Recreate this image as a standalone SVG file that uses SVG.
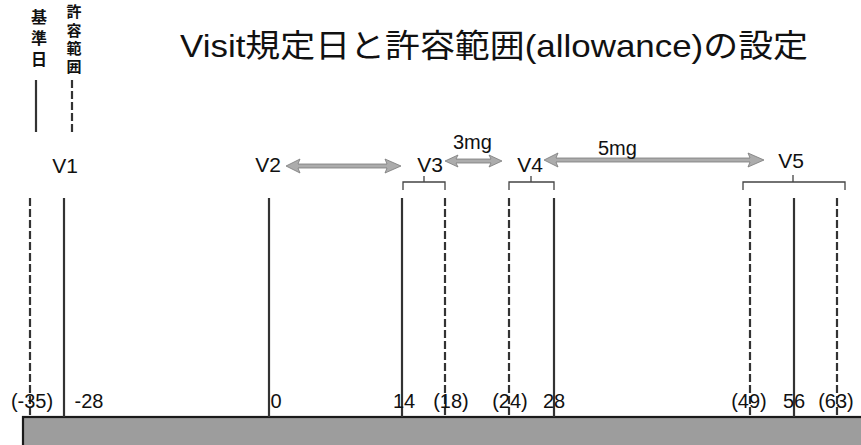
<svg xmlns="http://www.w3.org/2000/svg" width="861" height="445" viewBox="0 0 861 445">
<style>
text{font-family:"Liberation Sans","Noto Sans CJK JP",sans-serif;fill:#111}
.lbl{font-size:20px;text-anchor:middle}
.v{font-size:21px;text-anchor:middle}
.solid{stroke:#333;stroke-width:2.2;fill:none}
.dash{stroke:#333;stroke-width:2.2;fill:none;stroke-dasharray:8 3}
.br{stroke:#444;stroke-width:1.3;fill:none}
.arr{fill:#acacac;stroke:#7a7a7a;stroke-width:0.8}
</style>
<rect width="861" height="445" fill="#fff"/>
<g id="title"><text x="180" y="57" font-size="32" textLength="628" lengthAdjust="spacingAndGlyphs">Visit規定日と許容範囲(allowance)の設定</text></g>
<g id="legend">
<text font-size="16" font-weight="bold" text-anchor="middle"><tspan x="39" y="23">基</tspan><tspan x="39" y="44">準</tspan><tspan x="39" y="65">日</tspan></text>
<line class="solid" x1="36" y1="80" x2="36" y2="132" stroke-width="3"/>
<text font-size="15" font-weight="bold" text-anchor="middle"><tspan x="74" y="17">許</tspan><tspan x="74" y="36">容</tspan><tspan x="74" y="54">範</tspan><tspan x="74" y="72">囲</tspan></text>
<line class="dash" x1="72" y1="80" x2="72" y2="132" stroke-width="3"/>
</g>
<g id="bar"><rect x="23" y="417" width="845" height="35" fill="#9d9d9d" stroke="#1a1a1a" stroke-width="2.2"/></g>
<g id="day-lines">
<line class="dash" x1="30" y1="198" x2="30" y2="417"/>
<line class="solid" x1="64" y1="198" x2="64" y2="417"/>
<line class="solid" x1="269" y1="198" x2="269" y2="417"/>
<line class="solid" x1="402" y1="198" x2="402" y2="417"/>
<line class="dash" x1="445" y1="198" x2="445" y2="417"/>
<line class="dash" x1="509" y1="198" x2="509" y2="417"/>
<line class="solid" x1="554" y1="198" x2="554" y2="417"/>
<line class="dash" x1="750" y1="198" x2="750" y2="417"/>
<line class="solid" x1="794" y1="198" x2="794" y2="417"/>
<line class="dash" x1="837" y1="198" x2="837" y2="417"/>
</g>
<g id="day-labels">
<text class="lbl" x="32" y="408">(-35)</text>
<text class="lbl" x="89" y="408">-28</text>
<text class="lbl" x="276" y="408">0</text>
<text class="lbl" x="404" y="408">14</text>
<text class="lbl" x="451" y="408">(18)</text>
<text class="lbl" x="510" y="408">(24)</text>
<text class="lbl" x="554" y="408">28</text>
<text class="lbl" x="749" y="408">(49)</text>
<text class="lbl" x="794" y="408">56</text>
<text class="lbl" x="836" y="408">(63)</text>
</g>
<g id="V1"><text class="v" x="65" y="173">V1</text></g>
<g id="V2"><text class="v" x="268" y="172">V2</text></g>
<g id="V3"><text class="v" x="430" y="172">V3</text><path class="br" d="M403,190 V182 H445 V190 M424,182 V176"/></g>
<g id="V4"><text class="v" x="530" y="172">V4</text><path class="br" d="M509,190 V182 H554 V190 M531,182 V176"/></g>
<g id="V5"><text class="v" x="791" y="168">V5</text><path class="br" d="M743,190 V182 H845 V190 M793,182 V175"/></g>
<g id="connectors">
<polygon class="arr" points="286,166 300,159 298,164 387,164 385,159 401,166 385,173 387,168 298,168 300,173"/>
<polygon class="arr" points="445,161 458,155 456,159 491,159 489,155 502,161 489,167 491,163 456,163 458,167"/>
<polygon class="arr" points="544,160 558,153 556,158 750,158 748,153 764,160 748,167 750,162 556,162 558,167"/>
<text x="453" y="149" font-size="20">3mg</text>
<text x="598" y="155" font-size="20">5mg</text>
</g>
</svg>
